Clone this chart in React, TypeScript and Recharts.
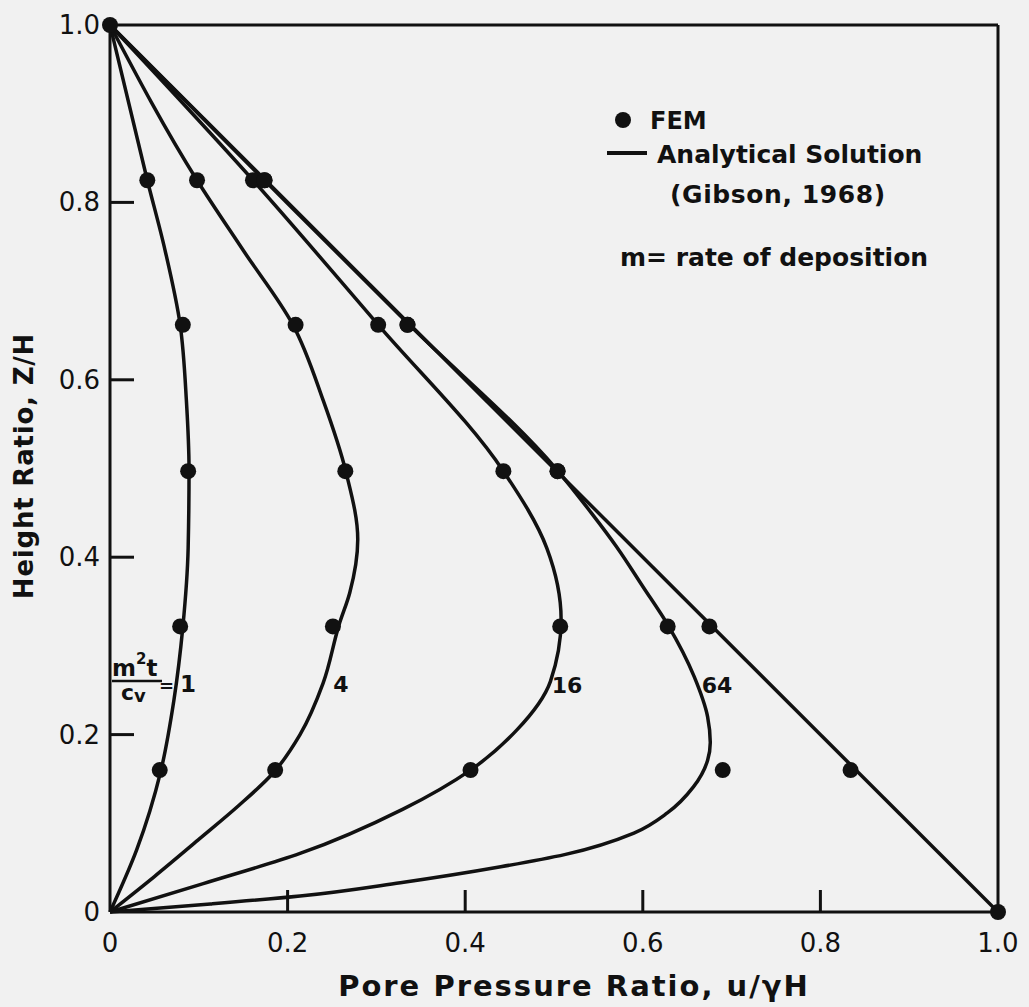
import { ComposedChart, Line, Scatter, XAxis, YAxis } from "recharts";

// analytical curves (Gibson, 1968): height ratio z and pore pressure ratio u
const z1 = [0, 0.07, 0.158, 0.239, 0.321, 0.41, 0.498, 0.577, 0.662, 0.746, 0.825, 1.0];
const u1 = [0, 0.03, 0.057, 0.072, 0.082, 0.088, 0.089, 0.086, 0.079, 0.062, 0.042, 0];

const z4 = [0, 0.04, 0.081, 0.12, 0.157, 0.2, 0.258, 0.324, 0.36, 0.42, 0.495, 0.577, 0.662, 0.746, 0.825, 1.0];
const u4 = [0, 0.05, 0.099, 0.145, 0.184, 0.214, 0.24, 0.258, 0.27, 0.279, 0.266, 0.24, 0.206, 0.15, 0.098, 0];

const z16 = [0, 0.032, 0.066, 0.116, 0.16, 0.205, 0.26, 0.33, 0.41, 0.497, 0.662, 0.825, 1.0];
const u16 = [0, 0.105, 0.214, 0.33, 0.406, 0.458, 0.496, 0.508, 0.492, 0.443, 0.302, 0.161, 0];

const z64 = [0, 0.009, 0.018, 0.033, 0.051, 0.065, 0.089, 0.112, 0.141, 0.171, 0.191, 0.22, 0.265, 0.324, 0.367, 0.411, 0.45, 0.5, 0.662, 0.825, 1.0];
const u64 = [0, 0.113, 0.214, 0.327, 0.44, 0.513, 0.59, 0.628, 0.657, 0.673, 0.676, 0.673, 0.658, 0.628, 0.6, 0.571, 0.542, 0.502, 0.337, 0.174, 0];

const zHydro = [0, 1.0];
const uHydro = [1.0, 0];

// FEM results
const femZ = [0.825, 0.662, 0.497, 0.322, 0.16];
const fem1 = [0.042, 0.082, 0.088, 0.079, 0.056];
const fem4 = [0.098, 0.209, 0.265, 0.251, 0.186];
const fem16 = [0.161, 0.302, 0.443, 0.507, 0.406];
const fem64 = [0.174, 0.335, 0.504, 0.628, 0.69];
const femHydroZ = [1.0, 0.825, 0.662, 0.497, 0.322, 0.16, 0];
const femHydroU = [0, 0.174, 0.335, 0.504, 0.675, 0.834, 1.0];

const ticks = [0, 0.2, 0.4, 0.6, 0.8, 1.0];
const tickLabels = ["0", "0.2", "0.4", "0.6", "0.8", "1.0"];

const INK = "#111";
const FONT = "'DejaVu Sans', sans-serif";

const pts = (us: number[], zs: number[]) => us.map((u, i) => ({ u, z: zs[i] }));

const curves = [pts(u1, z1), pts(u4, z4), pts(u16, z16), pts(u64, z64), pts(uHydro, zHydro)];
const femPoints = [
  ...pts(fem1, femZ),
  ...pts(fem4, femZ),
  ...pts(fem16, femZ),
  ...pts(fem64, femZ),
  ...pts(femHydroU, femHydroZ),
];

const label = (v: number) => tickLabels[ticks.indexOf(v)];
const inner = (v: number) => v > 0 && v < 1;

const BottomTick = (p: any) => {
  const v = p.payload.value;
  return (
    <g>
      {inner(v) && <line x1={p.x} y1={p.y} x2={p.x} y2={p.y - 22} stroke={INK} strokeWidth={3} />}
      <text x={p.x} y={p.y + 40} textAnchor="middle" fontSize={26} fontFamily={FONT} fill={INK}>
        {label(v)}
      </text>
    </g>
  );
};

const TopTick = (p: any) =>
  inner(p.payload.value) ? (
    <line x1={p.x} y1={p.y} x2={p.x} y2={p.y + 20} stroke={INK} strokeWidth={3} />
  ) : (
    <g />
  );

const LeftTick = (p: any) => {
  const v = p.payload.value;
  return (
    <g>
      {inner(v) && <line x1={p.x} y1={p.y} x2={p.x + 24} y2={p.y} stroke={INK} strokeWidth={3} />}
      <text x={p.x - 10} y={p.y + 9} textAnchor="end" fontSize={26} fontFamily={FONT} fill={INK}>
        {label(v)}
      </text>
    </g>
  );
};

const RightTick = (p: any) =>
  inner(p.payload.value) ? (
    <line x1={p.x} y1={p.y} x2={p.x - 24} y2={p.y} stroke={INK} strokeWidth={3} />
  ) : (
    <g />
  );

const Dot = (p: any) => <circle cx={p.cx} cy={p.cy} r={8} fill={INK} />;

const axisLine = { stroke: INK, strokeWidth: 3 };

export default function App() {
  return (
    <div style={{ position: "relative", width: 1029, height: 1007, background: "#f1f1f1" }}>
      <style>{"body{margin:0}"}</style>
      <ComposedChart width={1029} height={1007} margin={{ top: 24, right: 30, left: 109, bottom: 94 }}>
        <XAxis
          dataKey="u"
          type="number"
          domain={[0, 1]}
          ticks={ticks}
          height={1}
          tickSize={0}
          tickMargin={0}
          tickLine={false}
          axisLine={axisLine}
          tick={BottomTick}
        />
        <XAxis
          xAxisId="top"
          orientation="top"
          dataKey="u"
          type="number"
          domain={[0, 1]}
          ticks={ticks}
          height={1}
          tickSize={0}
          tickMargin={0}
          tickLine={false}
          axisLine={axisLine}
          tick={TopTick}
        />
        <YAxis
          dataKey="z"
          type="number"
          domain={[0, 1]}
          ticks={ticks}
          width={1}
          tickSize={0}
          tickMargin={0}
          tickLine={false}
          axisLine={axisLine}
          tick={LeftTick}
        />
        <YAxis
          yAxisId="right"
          orientation="right"
          dataKey="z"
          type="number"
          domain={[0, 1]}
          ticks={ticks}
          width={1}
          tickSize={0}
          tickMargin={0}
          tickLine={false}
          axisLine={axisLine}
          tick={RightTick}
        />
        {curves.map((c, i) => (
          <Line
            key={i}
            data={c}
            dataKey="z"
            type="monotoneY"
            stroke={INK}
            strokeWidth={3.5}
            dot={false}
            activeDot={false}
            isAnimationActive={false}
          />
        ))}
        <Scatter data={femPoints} dataKey="z" shape={Dot} isAnimationActive={false} />
      </ComposedChart>

      <svg
        width={1029}
        height={1007}
        style={{ position: "absolute", left: 0, top: 0, pointerEvents: "none" }}
        fontFamily={FONT}
        fill={INK}
      >
        <text x={24} y={466} transform="rotate(-90 24 466)" textAnchor="middle" dominantBaseline="central" fontSize={26} fontWeight="bold" letterSpacing={0.8}>
          Height Ratio, Z/H
        </text>
        <text x={574} y={996} textAnchor="middle" fontSize={29} fontWeight="bold" letterSpacing={2}>
          Pore Pressure Ratio, u/γH
        </text>

        <circle cx={623} cy={120} r={8} fill={INK} />
        <text x={650} y={129} fontSize={24} fontWeight="bold">FEM</text>
        <line x1={607} y1={153} x2={647} y2={153} stroke={INK} strokeWidth={4} />
        <text x={657} y={163} fontSize={25} fontWeight="bold">Analytical Solution</text>
        <text x={670} y={203} fontSize={25} fontWeight="bold" letterSpacing={0.6}>(Gibson, 1968)</text>
        <text x={620} y={266} fontSize={25} fontWeight="bold">m= rate of deposition</text>

        <text x={112} y={676} fontSize={23} fontWeight="bold">
          m<tspan dy={-12} fontSize={15}>2</tspan>
          <tspan dy={12}>t</tspan>
        </text>
        <line x1={112} y1={681} x2={162} y2={681} stroke={INK} strokeWidth={2.5} />
        <text x={121} y={700} fontSize={22} fontWeight="bold">
          c<tspan dy={2} fontSize={18}>v</tspan>
        </text>
        <text x={159} y={692} fontSize={18} fontWeight="bold">=</text>
        <text x={180} y={692} fontSize={23} fontWeight="bold">1</text>
        <text x={341} y={692} textAnchor="middle" fontSize={22} fontWeight="bold">4</text>
        <text x={567} y={693} textAnchor="middle" fontSize={22} fontWeight="bold">16</text>
        <text x={717} y={693} textAnchor="middle" fontSize={22} fontWeight="bold">64</text>
      </svg>
    </div>
  );
}
